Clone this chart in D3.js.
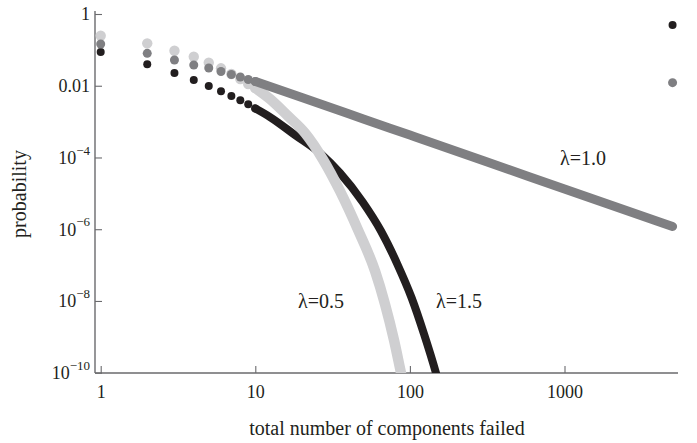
<!DOCTYPE html>
<html>
<head>
<meta charset="utf-8">
<script src="https://cdn.jsdelivr.net/npm/d3@7"></script>
<style>
body { margin: 0; background: #fff; }
svg text { font-family: "Liberation Serif", "Times New Roman", serif; fill: #231f20; }
</style>
</head>
<body>
<div id="chart"></div>
<script>
// DATA ----------------------------------------------------------------------
// separate dots for the first few sizes
var dotN = [1, 2, 3, 4, 5, 6, 7, 8, 9, 10];
var dotsLow  = [0.248, 0.152, 0.0948, 0.0645, 0.0439, 0.0306, 0.0212, 0.0154, 0.0112, 0.00865]; // lambda 0.5
var dotsMid  = [0.146, 0.0802, 0.0522, 0.0379, 0.0312, 0.0250, 0.0206, 0.0175, 0.0149, 0.0131];  // lambda 1.0
var dotsHigh = [0.0872, 0.0396, 0.0227, 0.0145, 0.00984, 0.00700, 0.00518, 0.00393, 0.00304, 0.00232]; // lambda 1.5

// dense part, where the dots merge into a band: [n, probability]
var bandLow = [[10, 8.65e-3], [12.45, 4.27e-3], [16.27, 1.43e-3], [20.96, 4.81e-4], [27.4, 8.79e-5],
               [35.3, 1.16e-5], [46.2, 9.51e-7], [59.5, 6.84e-8], [69, 8.22e-9], [78.9, 8.16e-10],
               [87.6, 9.8e-11], [97.2, 1.26e-11]];
var bandMid = [[10, 0.0131], [20, 4.7e-3], [50, 1.19e-3], [100, 4.2e-4], [300, 8.07e-5],
               [1000, 1.33e-5], [5000, 1.19e-6]];
var bandHigh = [[10, 2.32e-3], [12.45, 1.34e-3], [18.06, 4.23e-4], [26.6, 1.25e-4], [35.3, 3.69e-5],
                [49.5, 5.74e-6], [65, 8.91e-7], [82.9, 1.07e-7], [102.7, 1.21e-8], [123.4, 1.2e-9],
                [147.5, 9.8e-11], [161.3, 2.39e-11]];

// probability that all components failed (system size)
var totalN = 5000;
var totalMid = 0.0122;
var totalHigh = 0.493;

var seriesLabels = ["\u03bb=0.5", "\u03bb=1.0", "\u03bb=1.5"];
var xMajor = [1, 10, 100, 1000];
var yMajor = [1, 1e-2, 1e-4, 1e-6, 1e-8, 1e-10];
var yMajorText = [["1", ""], ["0.01", ""], ["10", "\u22124"], ["10", "\u22126"], ["10", "\u22128"], ["10", "\u221210"]];

// SVG ----------------------------------------------------------------------
var width = 697, height = 443;
var plotLeft = 95, plotRight = 678, plotTop = 11, plotBottom = 373;

var colors = {
	low: '#cfcfd1',
	mid: '#7f7f82',
	high: '#221e1f',
	axis: '#6a6a6d'
};

var svg = d3.select("#chart")
	.append("svg")
	.attr("width", width)
	.attr("height", height);

var x = d3.scaleLog().domain([1, 10000]).range([100.7, 100.7 + 4 * 154.6]);
var y = d3.scaleLog().domain([1, 1e-10]).range([14, 372.7]);

svg.append("clipPath").attr("id", "plotClip")
	.append("rect")
	.attr("x", plotLeft).attr("y", 0)
	.attr("width", plotRight - plotLeft + 10).attr("height", plotBottom);

// minor ticks: 2..9 on x, the decade below each labelled tick on y
var xMinor = [];
[1, 10, 100, 1000].forEach(function(d) {
	for (var j = 2; j <= 9; j++) if (d * j <= 5000) xMinor.push(d * j);
});
var yMinor = [];
yMajor.slice(0, -1).forEach(function(d) {
	for (var j = 1; j <= 9; j++) yMinor.push(d / 10 * j);
});

var xAxis = svg.append("g").attr("transform", "translate(0," + plotBottom + ")");
xAxis.call(d3.axisBottom(x).tickValues(xMinor).tickSize(-3).tickFormat(""));
xAxis.call(d3.axisBottom(x).tickValues(xMajor).tickSize(-7).tickFormat(d3.format("d")));
xAxis.selectAll(".domain").remove();
xAxis.selectAll("line").attr("stroke", colors.axis).attr("stroke-width", 1.1);
xAxis.selectAll("text")
	.attr("font-size", "18px")
	.attr("font-family", "Liberation Serif")
	.attr("fill", "#231f20")
	.attr("y", 12)
	.attr("dy", "0.71em");

var yAxis = svg.append("g").attr("transform", "translate(" + plotLeft + ",0)");
yAxis.call(d3.axisLeft(y).tickValues(yMinor).tickSize(-3).tickFormat(""));
yAxis.call(d3.axisLeft(y).tickValues(yMajor).tickSize(-7).tickFormat(""));
yAxis.selectAll(".domain").remove();
yAxis.selectAll("line").attr("stroke", colors.axis).attr("stroke-width", 1.1);

svg.append("line")
	.attr("x1", plotLeft).attr("x2", plotRight)
	.attr("y1", plotBottom).attr("y2", plotBottom)
	.attr("stroke", colors.axis).attr("stroke-width", 1.4);
svg.append("line")
	.attr("x1", plotLeft).attr("x2", plotLeft)
	.attr("y1", plotTop).attr("y2", plotBottom)
	.attr("stroke", colors.axis).attr("stroke-width", 1.4);

// y tick labels with superscripts
var yLabels = svg.append("g").selectAll("text")
	.data(yMajor)
	.enter()
	.append("text")
	.attr("x", plotLeft - 5)
	.attr("y", function(d) { return y(d); })
	.attr("dy", "0.35em")
	.attr("text-anchor", "end")
	.attr("font-size", "18px");
yLabels.append("tspan").text(function(d, i) { return yMajorText[i][0]; });
yLabels.append("tspan")
	.attr("font-size", "13px")
	.attr("dy", "-0.7em")
	.text(function(d, i) { return yMajorText[i][1]; });

// SERIES -------------------------------------------------------------------
var plot = svg.append("g").attr("clip-path", "url(#plotClip)");

var line = d3.line()
	.x(function(d) { return x(d[0]); })
	.y(function(d) { return y(d[1]); })
	.curve(d3.curveMonotoneX);

function drawSeries(dots, band, color, r) {
	plot.append("path")
		.datum(band)
		.attr("d", line)
		.attr("fill", "none")
		.attr("stroke", color)
		.attr("stroke-width", 2 * r)
		.attr("stroke-linecap", "round");
	plot.selectAll(null)
		.data(dots)
		.enter()
		.append("circle")
		.attr("cx", function(d, i) { return x(dotN[i]); })
		.attr("cy", function(d) { return y(d); })
		.attr("r", r)
		.attr("fill", color);
}

drawSeries(dotsHigh, bandHigh, colors.high, 4);
drawSeries(dotsLow, bandLow, colors.low, 5.2);
drawSeries(dotsMid, bandMid, colors.mid, 4.5);

plot.append("circle")
	.attr("cx", x(totalN)).attr("cy", y(totalHigh))
	.attr("r", 4).attr("fill", colors.high);
plot.append("circle")
	.attr("cx", x(totalN)).attr("cy", y(totalMid))
	.attr("r", 4.5).attr("fill", colors.mid);

// labels
svg.append("text").attr("x", 298).attr("y", 308).attr("font-size", "20px").text(seriesLabels[0]);
svg.append("text").attr("x", 560).attr("y", 165).attr("font-size", "20px").text(seriesLabels[1]);
svg.append("text").attr("x", 436).attr("y", 308).attr("font-size", "20px").text(seriesLabels[2]);

svg.append("text")
	.attr("x", 387).attr("y", 435)
	.attr("text-anchor", "middle")
	.attr("font-size", "20px")
	.text("total number of components failed");

svg.append("text")
	.attr("transform", "translate(26,194) rotate(-90)")
	.attr("text-anchor", "middle")
	.attr("font-size", "20px")
	.text("probability");
</script>
</body>
</html>
